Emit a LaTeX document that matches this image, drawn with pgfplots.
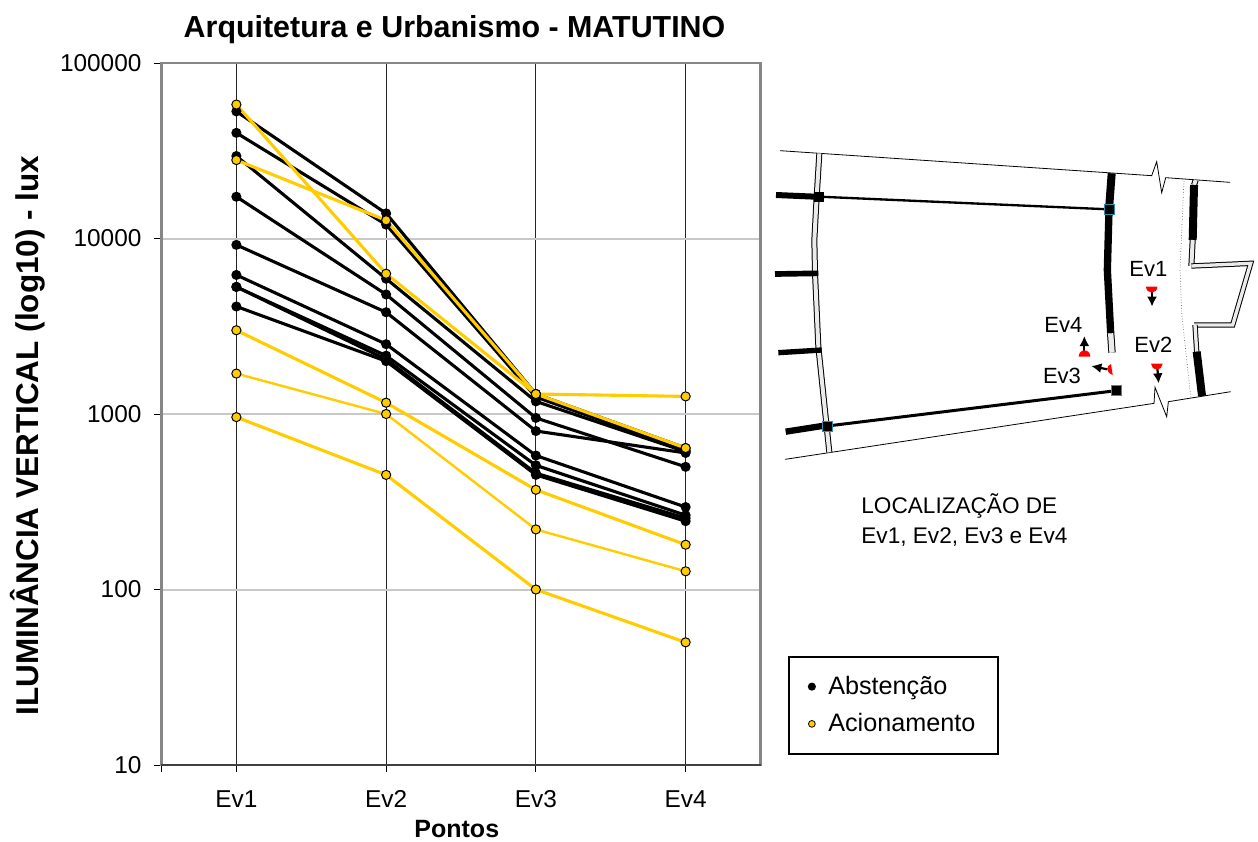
\documentclass[border=0pt]{standalone}
\usepackage{fontspec}
\setmainfont{Liberation Sans}
\usepackage{pgfplots}
\pgfplotsset{compat=1.18}
\usetikzlibrary{arrows.meta}
\definecolor{gold}{HTML}{FFCC00}
\definecolor{frame}{HTML}{868686}
\definecolor{gridg}{HTML}{C8C8C8}
\definecolor{teal2}{HTML}{2F8FA8}
\pgfplotsset{
 ab/.style={black,line width=1.55pt,mark=*,mark size=1.7pt,mark options={black,fill=black}},
 ac/.style={gold,line width=1.55pt,mark=*,mark size=2.3pt,mark options={draw=black,line width=0.5pt,fill=gold}},
 acthin/.style={ac,line width=1.2pt},
}
\begin{document}
\begin{tikzpicture}[x=0.5pt,y=-0.5pt,
  thickw/.style={line width=#1*0.1667pt,black,line cap=butt},
  dblw/.style={line width=0.5pt,black,double=black!8,double distance=#1*0.1667pt-1pt},
  lab/.style={font=\fontsize{11}{13}\selectfont,inner sep=0pt},
  arr/.style={black,line width=1.1pt,-{Latex[length=5pt,width=5pt]}}]
\path[use as bounding box] (0,0) rectangle (1258,841);
\begin{axis}[
  at={(80.75pt,-382.5pt)},anchor=south west,
  scale only axis,width=299.5pt,height=351pt,
  ymode=log,ymin=10,ymax=100000,
  xmin=-0.5,xmax=3.5,
  xtick={0,1,2,3},xticklabels={Ev1,Ev2,Ev3,Ev4},
  extra x ticks={-0.5},extra x tick labels={},
  extra x tick style={grid=none},
  ytick={10,100,1000,10000,100000},yticklabels={10,100,1000,10000,100000},
  yminorticks=false,
  xtick pos=bottom,ytick pos=left,
  tick align=outside,major tick length=3.5pt,
  tick style={black,line width=0.5pt},
  ticklabel style={font=\fontsize{12.2}{14}\selectfont},
  x tick label style={yshift=-5.5pt,text height=8.8pt,text depth=0pt},
  y tick label style={xshift=-3pt},
  xmajorgrids,ymajorgrids,
  x grid style={black!85,line width=0.5pt},
  y grid style={gridg,line width=1pt},
  axis line style={frame,line width=1.25pt},
  title={\bfseries Arquitetura e Urbanismo - MATUTINO},
  title style={font=\fontsize{15.2}{18}\selectfont,at={(0.4892,1.030)},anchor=center,inner sep=0pt},
  xlabel={\bfseries Pontos},
  xlabel style={font=\fontsize{12.5}{14}\selectfont,at={(0.493,-0.0915)},anchor=center,inner sep=0pt},
  ylabel={\bfseries ILUMINÂNCIA VERTICAL (log10) - lux},
  ylabel style={font=\fontsize{15.75}{18}\selectfont,at={(-0.2225,0.4694)},anchor=center,rotate=0,inner sep=0pt},
  legend style={at={(1.0467,0.1553)},anchor=north west,draw=black,line width=1pt,
    font=\fontsize{12.6}{15}\selectfont,fill=white,inner xsep=9.5pt,inner ysep=7.5pt,
    row sep=4pt,nodes={inner sep=2pt},/tikz/every odd column/.append style={column sep=4.5pt}},
  legend cell align=left,
  clip=false,
]
\draw[black!75,line width=1.25pt] (rel axis cs:0,0) -- (rel axis cs:1,0);
\addplot[ab,forget plot] coordinates {(0,53000)(1,13900)(2,1300)(3,640)};
\addplot[ab,forget plot] coordinates {(0,40000)(1,12000)(2,1250)(3,620)};
\addplot[ab,forget plot] coordinates {(0,29500)(1,5900)(2,1180)(3,610)};
\addplot[ab,forget plot] coordinates {(0,17300)(1,4800)(2,950)(3,500)};
\addplot[ab,forget plot] coordinates {(0,9200)(1,3800)(2,800)(3,600)};
\addplot[ab,forget plot] coordinates {(0,6200)(1,2500)(2,580)(3,295)};
\addplot[ab,forget plot] coordinates {(0,5300)(1,2150)(2,510)(3,265)};
\addplot[ab,forget plot] coordinates {(0,5300)(1,2050)(2,460)(3,255)};
\addplot[ab,forget plot] coordinates {(0,4100)(1,2000)(2,450)(3,245)};
\addplot[ac,forget plot] coordinates {(0,58000)(1,6300)(2,1300)(3,640)};
\addplot[ac,forget plot] coordinates {(0,28000)(1,12700)(2,1300)(3,1260)};
\addplot[ac,forget plot] coordinates {(0,3000)(1,1160)(2,370)(3,180)};
\addplot[acthin,forget plot] coordinates {(0,1700)(1,1000)(2,220)(3,127)};
\addplot[ac,forget plot] coordinates {(0,960)(1,450)(2,100)(3,50)};
\addlegendimage{only marks,mark=*,mark size=1.5pt,black,mark options={fill=black}}
\addlegendentry{Abstenção}
\addlegendimage{only marks,mark=*,mark size=1.7pt,mark options={draw=black,line width=0.4pt,fill=gold}}
\addlegendentry{Acionamento}
\end{axis}
% floor plan: drawn in zoom units
\begin{scope}[shift={(770,140)},x=0.16667pt,y=-0.16667pt,line join=miter]
\draw[black,line width=0.4pt] (30,32)--(1145,107)--(1160,65)--(1175,158)--(1187,113)--(1380,127);
\draw[black,line width=0.4pt] (45,958)--(1152,790)--(1155,742)--(1190,830)--(1195,785)--(1382,755);
% dotted line
\draw[black!60,line width=0.35pt,densely dotted] (1242,115)--(1230,390)--(1235,520)--(1262,770);
% left curved wall
\draw[dblw=18] (148,40)--(140,170)--(133,300)--(135,400)--(145,620)--(178,937);
% stubs
\draw[thickw=18] (18,165)--(135,170);
\draw[thickw=17] (15,402)--(145,400);
\draw[thickw=16] (25,638)--(155,630);
\draw[thickw=19] (47,875)--(175,855);
% beams
\draw[thickw=7] (147,170)--(1017,208);
\draw[thickw=9] (172,858)--(1038,752);
% right wall
\draw[thickw=24] (1025,100)--(1017,208);
\draw[thickw=22] (1017,208)--(1012,390)--(1022,580);
\draw[dblw=22] (1022,580)--(1026,638);
% far right wall
\draw[dblw=18] (1277,120)--(1272,135);
\draw[thickw=24] (1272,135)--(1268,300);
\draw[dblw=18] (1268,300)--(1264,378);
\draw[dblw=16] (1264,378)--(1442,370)--(1388,555)--(1272,555);
\draw[dblw=16] (1275,555)--(1280,635);
\draw[thickw=24] (1280,635)--(1296,768);
% columns
\fill[black] (132,155) rectangle (162,185);
\fill[black] (1002,193) rectangle (1032,223);
\draw[teal2,line width=0.4pt] (1002,193) rectangle (1032,223);
\fill[black] (1023,735) rectangle (1053,765);
\draw[teal2,line width=0.4pt] (1023,735) rectangle (1053,765);
\fill[black] (157,843) rectangle (187,873);
\draw[teal2,line width=0.4pt] (157,843) rectangle (187,873);
% arrows, then sensors
\draw[arr] (1146,452)--(1146,500);
\draw[arr] (1162,684)--(1166,730);
\draw[arr] (943,636)--(943,588);
\draw[arr] (1012,688)--(964,678);
\fill[red] (1128,440) -- (1162,440) arc[start angle=0,end angle=180,x radius=17,y radius=18] -- cycle;
\fill[red] (1143,671) -- (1178,671) arc[start angle=0,end angle=180,x radius=17.5,y radius=17] -- cycle;
\fill[red] (926,650) -- (961,650) arc[start angle=0,end angle=-180,x radius=17.5,y radius=19] -- cycle;
\fill[red] (1028,705) -- (1023,672) .. controls (1010,676) and (1004,695) .. cycle;
\node[lab] at (1135,387) {Ev1};
\node[lab] at (1150,615) {Ev2};
\node[lab] at (880,555) {Ev4};
\node[lab] at (876,708) {Ev3};
\end{scope}
\node[anchor=west,inner sep=0pt,font=\fontsize{11.3}{14}\selectfont] at (861,506) {LOCALIZAÇÃO DE};
\node[anchor=west,inner sep=0pt,font=\fontsize{11.3}{14}\selectfont] at (861,537) {Ev1, Ev2, Ev3 e Ev4};
\end{tikzpicture}
\end{document}
